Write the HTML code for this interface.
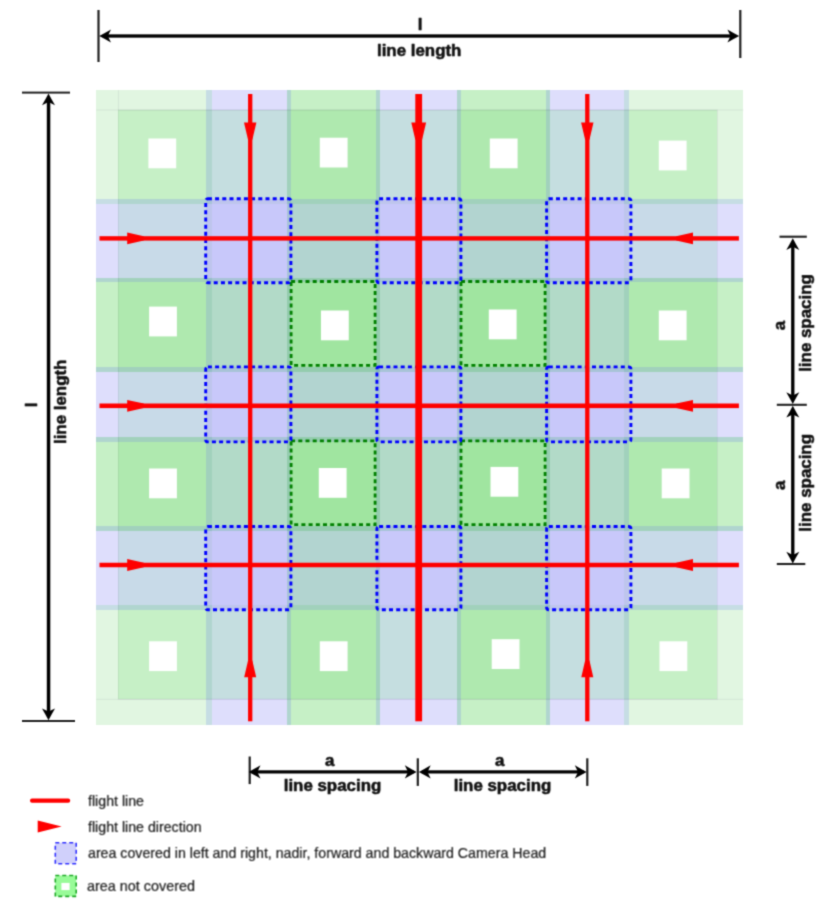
<!DOCTYPE html>
<html><head><meta charset="utf-8"><title>flight lines</title>
<style>html,body{margin:0;padding:0;background:#fff}svg{display:block}text{font-family:"Liberation Sans",sans-serif}</style></head><body>
<svg width="836" height="913" viewBox="0 0 836 913">
<rect width="836" height="913" fill="#fff"/>
<defs><filter id="b1" filterUnits="userSpaceOnUse" x="0" y="0" width="836" height="913" color-interpolation-filters="sRGB"><feConvolveMatrix order="3" kernelMatrix="0.0289 0.1122 0.0289 0.1122 0.4356 0.1122 0.0289 0.1122 0.0289" edgeMode="duplicate"/></filter><filter id="b2" filterUnits="userSpaceOnUse" x="0" y="0" width="836" height="913" color-interpolation-filters="sRGB"><feConvolveMatrix order="3" kernelMatrix="0.0400 0.1200 0.0400 0.1200 0.3600 0.1200 0.0400 0.1200 0.0400" edgeMode="duplicate"/></filter><filter id="b3" filterUnits="userSpaceOnUse" x="0" y="0" width="836" height="913" color-interpolation-filters="sRGB"><feConvolveMatrix order="3" kernelMatrix="0.0576 0.1248 0.0576 0.1248 0.2704 0.1248 0.0576 0.1248 0.0576" edgeMode="duplicate"/></filter></defs>
<g filter="url(#b1)">
<g shape-rendering="crispEdges">
<rect x="96.3" y="90.2" width="22.10" height="19.80" fill="#e1f6e1"/>
<rect x="118.4" y="90.2" width="87.80" height="19.80" fill="#e1f6e1"/>
<rect x="206.2" y="90.2" width="5.30" height="19.80" fill="#c6dde4"/>
<rect x="211.5" y="90.2" width="75.00" height="19.80" fill="#dedefc"/>
<rect x="286.5" y="90.2" width="4.30" height="19.80" fill="#b0d5cf"/>
<rect x="290.8" y="90.2" width="85.10" height="19.80" fill="#c6f0c6"/>
<rect x="375.9" y="90.2" width="4.30" height="19.80" fill="#b0d5cf"/>
<rect x="380.2" y="90.2" width="76.30" height="19.80" fill="#dedefc"/>
<rect x="456.5" y="90.2" width="4.30" height="19.80" fill="#b0d5cf"/>
<rect x="460.8" y="90.2" width="85.10" height="19.80" fill="#c6f0c6"/>
<rect x="545.9" y="90.2" width="4.30" height="19.80" fill="#b0d5cf"/>
<rect x="550.2" y="90.2" width="74.20" height="19.80" fill="#dedefc"/>
<rect x="624.4" y="90.2" width="5.00" height="19.80" fill="#c6dde4"/>
<rect x="629.4" y="90.2" width="88.00" height="19.80" fill="#e1f6e1"/>
<rect x="717.4" y="90.2" width="26.00" height="19.80" fill="#e1f6e1"/>
<rect x="96.3" y="110.0" width="22.10" height="89.00" fill="#e1f6e1"/>
<rect x="118.4" y="110.0" width="87.80" height="89.00" fill="#c6f0c6"/>
<rect x="206.2" y="110.0" width="5.30" height="89.00" fill="#b0d5cf"/>
<rect x="211.5" y="110.0" width="75.00" height="89.00" fill="#c5dee0"/>
<rect x="286.5" y="110.0" width="4.30" height="89.00" fill="#a1d1bc"/>
<rect x="290.8" y="110.0" width="85.10" height="89.00" fill="#afe9af"/>
<rect x="375.9" y="110.0" width="4.30" height="89.00" fill="#a1d1bc"/>
<rect x="380.2" y="110.0" width="76.30" height="89.00" fill="#c5dee0"/>
<rect x="456.5" y="110.0" width="4.30" height="89.00" fill="#a1d1bc"/>
<rect x="460.8" y="110.0" width="85.10" height="89.00" fill="#afe9af"/>
<rect x="545.9" y="110.0" width="4.30" height="89.00" fill="#a1d1bc"/>
<rect x="550.2" y="110.0" width="74.20" height="89.00" fill="#c5dee0"/>
<rect x="624.4" y="110.0" width="5.00" height="89.00" fill="#b0d5cf"/>
<rect x="629.4" y="110.0" width="88.00" height="89.00" fill="#c6f0c6"/>
<rect x="717.4" y="110.0" width="26.00" height="89.00" fill="#e1f6e1"/>
<rect x="96.3" y="199.0" width="22.10" height="5.00" fill="#c6dde4"/>
<rect x="118.4" y="199.0" width="87.80" height="5.00" fill="#b0d5cf"/>
<rect x="206.2" y="199.0" width="5.30" height="5.00" fill="#a8c3d7"/>
<rect x="211.5" y="199.0" width="75.00" height="5.00" fill="#bec5ed"/>
<rect x="286.5" y="199.0" width="4.30" height="5.00" fill="#96bec8"/>
<rect x="290.8" y="199.0" width="85.10" height="5.00" fill="#a1d1bc"/>
<rect x="375.9" y="199.0" width="4.30" height="5.00" fill="#96bec8"/>
<rect x="380.2" y="199.0" width="76.30" height="5.00" fill="#bec5ed"/>
<rect x="456.5" y="199.0" width="4.30" height="5.00" fill="#96bec8"/>
<rect x="460.8" y="199.0" width="85.10" height="5.00" fill="#a1d1bc"/>
<rect x="545.9" y="199.0" width="4.30" height="5.00" fill="#96bec8"/>
<rect x="550.2" y="199.0" width="74.20" height="5.00" fill="#bec5ed"/>
<rect x="624.4" y="199.0" width="5.00" height="5.00" fill="#a8c3d7"/>
<rect x="629.4" y="199.0" width="88.00" height="5.00" fill="#b0d5cf"/>
<rect x="717.4" y="199.0" width="26.00" height="5.00" fill="#c6dde4"/>
<rect x="96.3" y="204" width="22.10" height="74.00" fill="#dedefc"/>
<rect x="118.4" y="204" width="87.80" height="74.00" fill="#c8dae8"/>
<rect x="206.2" y="204" width="5.30" height="74.00" fill="#bec5ed"/>
<rect x="211.5" y="204" width="75.00" height="74.00" fill="#c8c8fa"/>
<rect x="286.5" y="204" width="4.30" height="74.00" fill="#a8c3d7"/>
<rect x="290.8" y="204" width="85.10" height="74.00" fill="#b2d4d0"/>
<rect x="375.9" y="204" width="4.30" height="74.00" fill="#a8c3d7"/>
<rect x="380.2" y="204" width="76.30" height="74.00" fill="#c8c8fa"/>
<rect x="456.5" y="204" width="4.30" height="74.00" fill="#a8c3d7"/>
<rect x="460.8" y="204" width="85.10" height="74.00" fill="#b2d4d0"/>
<rect x="545.9" y="204" width="4.30" height="74.00" fill="#a8c3d7"/>
<rect x="550.2" y="204" width="74.20" height="74.00" fill="#c8c8fa"/>
<rect x="624.4" y="204" width="5.00" height="74.00" fill="#bec5ed"/>
<rect x="629.4" y="204" width="88.00" height="74.00" fill="#c8dae8"/>
<rect x="717.4" y="204" width="26.00" height="74.00" fill="#dedefc"/>
<rect x="96.3" y="278" width="22.10" height="4.20" fill="#b0d5cf"/>
<rect x="118.4" y="278" width="87.80" height="4.20" fill="#a1d1bc"/>
<rect x="206.2" y="278" width="5.30" height="4.20" fill="#96bec8"/>
<rect x="211.5" y="278" width="75.00" height="4.20" fill="#a8c3d7"/>
<rect x="286.5" y="278" width="4.30" height="4.20" fill="#87b9b9"/>
<rect x="290.8" y="278" width="85.10" height="4.20" fill="#94ccae"/>
<rect x="375.9" y="278" width="4.30" height="4.20" fill="#87b9b9"/>
<rect x="380.2" y="278" width="76.30" height="4.20" fill="#a8c3d7"/>
<rect x="456.5" y="278" width="4.30" height="4.20" fill="#87b9b9"/>
<rect x="460.8" y="278" width="85.10" height="4.20" fill="#94ccae"/>
<rect x="545.9" y="278" width="4.30" height="4.20" fill="#87b9b9"/>
<rect x="550.2" y="278" width="74.20" height="4.20" fill="#a8c3d7"/>
<rect x="624.4" y="278" width="5.00" height="4.20" fill="#96bec8"/>
<rect x="629.4" y="278" width="88.00" height="4.20" fill="#a1d1bc"/>
<rect x="717.4" y="278" width="26.00" height="4.20" fill="#b0d5cf"/>
<rect x="96.3" y="282.2" width="22.10" height="85.10" fill="#c6f0c6"/>
<rect x="118.4" y="282.2" width="87.80" height="85.10" fill="#afe9af"/>
<rect x="206.2" y="282.2" width="5.30" height="85.10" fill="#a1d1bc"/>
<rect x="211.5" y="282.2" width="75.00" height="85.10" fill="#b2dac8"/>
<rect x="286.5" y="282.2" width="4.30" height="85.10" fill="#94ccae"/>
<rect x="290.8" y="282.2" width="85.10" height="85.10" fill="#a0e5a0"/>
<rect x="375.9" y="282.2" width="4.30" height="85.10" fill="#94ccae"/>
<rect x="380.2" y="282.2" width="76.30" height="85.10" fill="#b2dac8"/>
<rect x="456.5" y="282.2" width="4.30" height="85.10" fill="#94ccae"/>
<rect x="460.8" y="282.2" width="85.10" height="85.10" fill="#a0e5a0"/>
<rect x="545.9" y="282.2" width="4.30" height="85.10" fill="#94ccae"/>
<rect x="550.2" y="282.2" width="74.20" height="85.10" fill="#b2dac8"/>
<rect x="624.4" y="282.2" width="5.00" height="85.10" fill="#a1d1bc"/>
<rect x="629.4" y="282.2" width="88.00" height="85.10" fill="#afe9af"/>
<rect x="717.4" y="282.2" width="26.00" height="85.10" fill="#c6f0c6"/>
<rect x="96.3" y="367.3" width="22.10" height="4.30" fill="#b0d5cf"/>
<rect x="118.4" y="367.3" width="87.80" height="4.30" fill="#a1d1bc"/>
<rect x="206.2" y="367.3" width="5.30" height="4.30" fill="#96bec8"/>
<rect x="211.5" y="367.3" width="75.00" height="4.30" fill="#a8c3d7"/>
<rect x="286.5" y="367.3" width="4.30" height="4.30" fill="#87b9b9"/>
<rect x="290.8" y="367.3" width="85.10" height="4.30" fill="#94ccae"/>
<rect x="375.9" y="367.3" width="4.30" height="4.30" fill="#87b9b9"/>
<rect x="380.2" y="367.3" width="76.30" height="4.30" fill="#a8c3d7"/>
<rect x="456.5" y="367.3" width="4.30" height="4.30" fill="#87b9b9"/>
<rect x="460.8" y="367.3" width="85.10" height="4.30" fill="#94ccae"/>
<rect x="545.9" y="367.3" width="4.30" height="4.30" fill="#87b9b9"/>
<rect x="550.2" y="367.3" width="74.20" height="4.30" fill="#a8c3d7"/>
<rect x="624.4" y="367.3" width="5.00" height="4.30" fill="#96bec8"/>
<rect x="629.4" y="367.3" width="88.00" height="4.30" fill="#a1d1bc"/>
<rect x="717.4" y="367.3" width="26.00" height="4.30" fill="#b0d5cf"/>
<rect x="96.3" y="371.6" width="22.10" height="65.60" fill="#dedefc"/>
<rect x="118.4" y="371.6" width="87.80" height="65.60" fill="#c8dae8"/>
<rect x="206.2" y="371.6" width="5.30" height="65.60" fill="#bec5ed"/>
<rect x="211.5" y="371.6" width="75.00" height="65.60" fill="#c8c8fa"/>
<rect x="286.5" y="371.6" width="4.30" height="65.60" fill="#a8c3d7"/>
<rect x="290.8" y="371.6" width="85.10" height="65.60" fill="#b2d4d0"/>
<rect x="375.9" y="371.6" width="4.30" height="65.60" fill="#a8c3d7"/>
<rect x="380.2" y="371.6" width="76.30" height="65.60" fill="#c8c8fa"/>
<rect x="456.5" y="371.6" width="4.30" height="65.60" fill="#a8c3d7"/>
<rect x="460.8" y="371.6" width="85.10" height="65.60" fill="#b2d4d0"/>
<rect x="545.9" y="371.6" width="4.30" height="65.60" fill="#a8c3d7"/>
<rect x="550.2" y="371.6" width="74.20" height="65.60" fill="#c8c8fa"/>
<rect x="624.4" y="371.6" width="5.00" height="65.60" fill="#bec5ed"/>
<rect x="629.4" y="371.6" width="88.00" height="65.60" fill="#c8dae8"/>
<rect x="717.4" y="371.6" width="26.00" height="65.60" fill="#dedefc"/>
<rect x="96.3" y="437.2" width="22.10" height="4.30" fill="#b0d5cf"/>
<rect x="118.4" y="437.2" width="87.80" height="4.30" fill="#a1d1bc"/>
<rect x="206.2" y="437.2" width="5.30" height="4.30" fill="#96bec8"/>
<rect x="211.5" y="437.2" width="75.00" height="4.30" fill="#a8c3d7"/>
<rect x="286.5" y="437.2" width="4.30" height="4.30" fill="#87b9b9"/>
<rect x="290.8" y="437.2" width="85.10" height="4.30" fill="#94ccae"/>
<rect x="375.9" y="437.2" width="4.30" height="4.30" fill="#87b9b9"/>
<rect x="380.2" y="437.2" width="76.30" height="4.30" fill="#a8c3d7"/>
<rect x="456.5" y="437.2" width="4.30" height="4.30" fill="#87b9b9"/>
<rect x="460.8" y="437.2" width="85.10" height="4.30" fill="#94ccae"/>
<rect x="545.9" y="437.2" width="4.30" height="4.30" fill="#87b9b9"/>
<rect x="550.2" y="437.2" width="74.20" height="4.30" fill="#a8c3d7"/>
<rect x="624.4" y="437.2" width="5.00" height="4.30" fill="#96bec8"/>
<rect x="629.4" y="437.2" width="88.00" height="4.30" fill="#a1d1bc"/>
<rect x="717.4" y="437.2" width="26.00" height="4.30" fill="#b0d5cf"/>
<rect x="96.3" y="441.5" width="22.10" height="84.40" fill="#c6f0c6"/>
<rect x="118.4" y="441.5" width="87.80" height="84.40" fill="#afe9af"/>
<rect x="206.2" y="441.5" width="5.30" height="84.40" fill="#a1d1bc"/>
<rect x="211.5" y="441.5" width="75.00" height="84.40" fill="#b2dac8"/>
<rect x="286.5" y="441.5" width="4.30" height="84.40" fill="#94ccae"/>
<rect x="290.8" y="441.5" width="85.10" height="84.40" fill="#a0e5a0"/>
<rect x="375.9" y="441.5" width="4.30" height="84.40" fill="#94ccae"/>
<rect x="380.2" y="441.5" width="76.30" height="84.40" fill="#b2dac8"/>
<rect x="456.5" y="441.5" width="4.30" height="84.40" fill="#94ccae"/>
<rect x="460.8" y="441.5" width="85.10" height="84.40" fill="#a0e5a0"/>
<rect x="545.9" y="441.5" width="4.30" height="84.40" fill="#94ccae"/>
<rect x="550.2" y="441.5" width="74.20" height="84.40" fill="#b2dac8"/>
<rect x="624.4" y="441.5" width="5.00" height="84.40" fill="#a1d1bc"/>
<rect x="629.4" y="441.5" width="88.00" height="84.40" fill="#afe9af"/>
<rect x="717.4" y="441.5" width="26.00" height="84.40" fill="#c6f0c6"/>
<rect x="96.3" y="525.9" width="22.10" height="4.60" fill="#b0d5cf"/>
<rect x="118.4" y="525.9" width="87.80" height="4.60" fill="#a1d1bc"/>
<rect x="206.2" y="525.9" width="5.30" height="4.60" fill="#96bec8"/>
<rect x="211.5" y="525.9" width="75.00" height="4.60" fill="#a8c3d7"/>
<rect x="286.5" y="525.9" width="4.30" height="4.60" fill="#87b9b9"/>
<rect x="290.8" y="525.9" width="85.10" height="4.60" fill="#94ccae"/>
<rect x="375.9" y="525.9" width="4.30" height="4.60" fill="#87b9b9"/>
<rect x="380.2" y="525.9" width="76.30" height="4.60" fill="#a8c3d7"/>
<rect x="456.5" y="525.9" width="4.30" height="4.60" fill="#87b9b9"/>
<rect x="460.8" y="525.9" width="85.10" height="4.60" fill="#94ccae"/>
<rect x="545.9" y="525.9" width="4.30" height="4.60" fill="#87b9b9"/>
<rect x="550.2" y="525.9" width="74.20" height="4.60" fill="#a8c3d7"/>
<rect x="624.4" y="525.9" width="5.00" height="4.60" fill="#96bec8"/>
<rect x="629.4" y="525.9" width="88.00" height="4.60" fill="#a1d1bc"/>
<rect x="717.4" y="525.9" width="26.00" height="4.60" fill="#b0d5cf"/>
<rect x="96.3" y="530.5" width="22.10" height="74.80" fill="#dedefc"/>
<rect x="118.4" y="530.5" width="87.80" height="74.80" fill="#c8dae8"/>
<rect x="206.2" y="530.5" width="5.30" height="74.80" fill="#bec5ed"/>
<rect x="211.5" y="530.5" width="75.00" height="74.80" fill="#c8c8fa"/>
<rect x="286.5" y="530.5" width="4.30" height="74.80" fill="#a8c3d7"/>
<rect x="290.8" y="530.5" width="85.10" height="74.80" fill="#b2d4d0"/>
<rect x="375.9" y="530.5" width="4.30" height="74.80" fill="#a8c3d7"/>
<rect x="380.2" y="530.5" width="76.30" height="74.80" fill="#c8c8fa"/>
<rect x="456.5" y="530.5" width="4.30" height="74.80" fill="#a8c3d7"/>
<rect x="460.8" y="530.5" width="85.10" height="74.80" fill="#b2d4d0"/>
<rect x="545.9" y="530.5" width="4.30" height="74.80" fill="#a8c3d7"/>
<rect x="550.2" y="530.5" width="74.20" height="74.80" fill="#c8c8fa"/>
<rect x="624.4" y="530.5" width="5.00" height="74.80" fill="#bec5ed"/>
<rect x="629.4" y="530.5" width="88.00" height="74.80" fill="#c8dae8"/>
<rect x="717.4" y="530.5" width="26.00" height="74.80" fill="#dedefc"/>
<rect x="96.3" y="605.3" width="22.10" height="4.70" fill="#c6dde4"/>
<rect x="118.4" y="605.3" width="87.80" height="4.70" fill="#b0d5cf"/>
<rect x="206.2" y="605.3" width="5.30" height="4.70" fill="#a8c3d7"/>
<rect x="211.5" y="605.3" width="75.00" height="4.70" fill="#bec5ed"/>
<rect x="286.5" y="605.3" width="4.30" height="4.70" fill="#96bec8"/>
<rect x="290.8" y="605.3" width="85.10" height="4.70" fill="#a1d1bc"/>
<rect x="375.9" y="605.3" width="4.30" height="4.70" fill="#96bec8"/>
<rect x="380.2" y="605.3" width="76.30" height="4.70" fill="#bec5ed"/>
<rect x="456.5" y="605.3" width="4.30" height="4.70" fill="#96bec8"/>
<rect x="460.8" y="605.3" width="85.10" height="4.70" fill="#a1d1bc"/>
<rect x="545.9" y="605.3" width="4.30" height="4.70" fill="#96bec8"/>
<rect x="550.2" y="605.3" width="74.20" height="4.70" fill="#bec5ed"/>
<rect x="624.4" y="605.3" width="5.00" height="4.70" fill="#a8c3d7"/>
<rect x="629.4" y="605.3" width="88.00" height="4.70" fill="#b0d5cf"/>
<rect x="717.4" y="605.3" width="26.00" height="4.70" fill="#c6dde4"/>
<rect x="96.3" y="610.0" width="22.10" height="89.30" fill="#e1f6e1"/>
<rect x="118.4" y="610.0" width="87.80" height="89.30" fill="#c6f0c6"/>
<rect x="206.2" y="610.0" width="5.30" height="89.30" fill="#b0d5cf"/>
<rect x="211.5" y="610.0" width="75.00" height="89.30" fill="#c5dee0"/>
<rect x="286.5" y="610.0" width="4.30" height="89.30" fill="#a1d1bc"/>
<rect x="290.8" y="610.0" width="85.10" height="89.30" fill="#afe9af"/>
<rect x="375.9" y="610.0" width="4.30" height="89.30" fill="#a1d1bc"/>
<rect x="380.2" y="610.0" width="76.30" height="89.30" fill="#c5dee0"/>
<rect x="456.5" y="610.0" width="4.30" height="89.30" fill="#a1d1bc"/>
<rect x="460.8" y="610.0" width="85.10" height="89.30" fill="#afe9af"/>
<rect x="545.9" y="610.0" width="4.30" height="89.30" fill="#a1d1bc"/>
<rect x="550.2" y="610.0" width="74.20" height="89.30" fill="#c5dee0"/>
<rect x="624.4" y="610.0" width="5.00" height="89.30" fill="#b0d5cf"/>
<rect x="629.4" y="610.0" width="88.00" height="89.30" fill="#c6f0c6"/>
<rect x="717.4" y="610.0" width="26.00" height="89.30" fill="#e1f6e1"/>
<rect x="96.3" y="699.3" width="22.10" height="26.00" fill="#e1f6e1"/>
<rect x="118.4" y="699.3" width="87.80" height="26.00" fill="#e1f6e1"/>
<rect x="206.2" y="699.3" width="5.30" height="26.00" fill="#c6dde4"/>
<rect x="211.5" y="699.3" width="75.00" height="26.00" fill="#dedefc"/>
<rect x="286.5" y="699.3" width="4.30" height="26.00" fill="#b0d5cf"/>
<rect x="290.8" y="699.3" width="85.10" height="26.00" fill="#c6f0c6"/>
<rect x="375.9" y="699.3" width="4.30" height="26.00" fill="#b0d5cf"/>
<rect x="380.2" y="699.3" width="76.30" height="26.00" fill="#dedefc"/>
<rect x="456.5" y="699.3" width="4.30" height="26.00" fill="#b0d5cf"/>
<rect x="460.8" y="699.3" width="85.10" height="26.00" fill="#c6f0c6"/>
<rect x="545.9" y="699.3" width="4.30" height="26.00" fill="#b0d5cf"/>
<rect x="550.2" y="699.3" width="74.20" height="26.00" fill="#dedefc"/>
<rect x="624.4" y="699.3" width="5.00" height="26.00" fill="#c6dde4"/>
<rect x="629.4" y="699.3" width="88.00" height="26.00" fill="#e1f6e1"/>
<rect x="717.4" y="699.3" width="26.00" height="26.00" fill="#e1f6e1"/>
</g>
<rect x="118.4" y="110.0" width="599.00" height="589.30" fill="none" stroke="#302040" stroke-opacity="0.07" stroke-width="1"/>
<path d="M96.3 110.0H743.4M96.3 699.3H743.4M118.4 90.2V110.0" fill="none" stroke="#302040" stroke-opacity="0.07" stroke-width="1"/>
<rect x="148.4" y="138.5" width="27.8" height="29.8" fill="#fff"/>
<rect x="319.8" y="137.7" width="27.8" height="29.8" fill="#fff"/>
<rect x="489.8" y="138.5" width="27.8" height="29.8" fill="#fff"/>
<rect x="658.8" y="140.6" width="27.8" height="29.8" fill="#fff"/>
<rect x="149.1" y="306.6" width="27.8" height="29.8" fill="#fff"/>
<rect x="320.95" y="310.5" width="27.8" height="29.8" fill="#fff"/>
<rect x="488.8" y="309.5" width="27.8" height="29.8" fill="#fff"/>
<rect x="658.8" y="310.5" width="27.8" height="29.8" fill="#fff"/>
<rect x="149.1" y="468.5" width="27.8" height="29.8" fill="#fff"/>
<rect x="318.8" y="468.0" width="27.8" height="29.8" fill="#fff"/>
<rect x="490.5" y="466.9" width="27.8" height="29.8" fill="#fff"/>
<rect x="661.7" y="468.5" width="27.8" height="29.8" fill="#fff"/>
<rect x="149.1" y="641.3" width="27.8" height="29.8" fill="#fff"/>
<rect x="319.8" y="641.3" width="27.8" height="29.8" fill="#fff"/>
<rect x="491.7" y="639.2" width="27.8" height="29.8" fill="#fff"/>
<rect x="659.5" y="641.3" width="27.8" height="29.8" fill="#fff"/>
<rect x="291.1" y="281.5" width="84.0" height="83.8" fill="none" stroke="#008000" stroke-width="2.8" stroke-dasharray="4 3.2"/>
<rect x="291.1" y="440.8" width="84.0" height="83.9" fill="none" stroke="#008000" stroke-width="2.8" stroke-dasharray="4 3.2"/>
<rect x="461.0" y="281.5" width="84.1" height="83.8" fill="none" stroke="#008000" stroke-width="2.8" stroke-dasharray="4 3.2"/>
<rect x="461.0" y="440.8" width="84.1" height="83.9" fill="none" stroke="#008000" stroke-width="2.8" stroke-dasharray="4 3.2"/>
<rect x="205.7" y="198.7" width="85.2" height="84.0" rx="2.2" ry="2.2" fill="none" stroke="#0000ff" stroke-width="2.9" stroke-dasharray="4 3.2"/>
<rect x="205.7" y="366.9" width="85.2" height="75.0" rx="2.2" ry="2.2" fill="none" stroke="#0000ff" stroke-width="2.9" stroke-dasharray="4 3.2"/>
<rect x="205.7" y="526.5" width="85.2" height="83.3" rx="2.2" ry="2.2" fill="none" stroke="#0000ff" stroke-width="2.9" stroke-dasharray="4 3.2"/>
<rect x="376.9" y="198.7" width="84.0" height="84.0" rx="2.2" ry="2.2" fill="none" stroke="#0000ff" stroke-width="2.9" stroke-dasharray="4 3.2"/>
<rect x="376.9" y="366.9" width="84.0" height="75.0" rx="2.2" ry="2.2" fill="none" stroke="#0000ff" stroke-width="2.9" stroke-dasharray="4 3.2"/>
<rect x="376.9" y="526.5" width="84.0" height="83.3" rx="2.2" ry="2.2" fill="none" stroke="#0000ff" stroke-width="2.9" stroke-dasharray="4 3.2"/>
<rect x="546.6" y="198.7" width="84.3" height="84.0" rx="2.2" ry="2.2" fill="none" stroke="#0000ff" stroke-width="2.9" stroke-dasharray="4 3.2"/>
<rect x="546.6" y="366.9" width="84.3" height="75.0" rx="2.2" ry="2.2" fill="none" stroke="#0000ff" stroke-width="2.9" stroke-dasharray="4 3.2"/>
<rect x="546.6" y="526.5" width="84.3" height="83.3" rx="2.2" ry="2.2" fill="none" stroke="#0000ff" stroke-width="2.9" stroke-dasharray="4 3.2"/>
<rect x="248.05" y="94" width="4.3" height="627.3" fill="#ff0000"/>
<rect x="415.30" y="94" width="6.8" height="627.3" fill="#ff0000"/>
<rect x="585.15" y="94" width="4.3" height="627.3" fill="#ff0000"/>
<rect x="99.5" y="236.20" width="639.4" height="4.4" fill="#ff0000"/>
<rect x="99.5" y="403.50" width="639.4" height="4.6" fill="#ff0000"/>
<rect x="99.5" y="562.75" width="639.4" height="4.5" fill="#ff0000"/>
<polygon points="244.0,122.6 256.4,122.6 252.35,139.8 248.04999999999998,139.8" fill="#ff0000"/>
<polygon points="411.3,122.6 426.09999999999997,122.6 422.09999999999997,139.8 415.3,139.8" fill="#ff0000"/>
<polygon points="581.0999999999999,122.6 593.5,122.6 589.4499999999999,139.8 585.15,139.8" fill="#ff0000"/>
<polygon points="244.2,677.2 256.2,677.2 252.35,660.4 248.04999999999998,660.4" fill="#ff0000"/>
<polygon points="581.3,677.2 593.3,677.2 589.4499999999999,660.4 585.15,660.4" fill="#ff0000"/>
<polygon points="127.2,232.5 127.2,244.3 143.8,240.6 143.8,236.20000000000002" fill="#ff0000"/>
<polygon points="127.2,399.90000000000003 127.2,411.7 143.8,408.0 143.8,403.6" fill="#ff0000"/>
<polygon points="127.2,559.1 127.2,570.9 143.8,567.2 143.8,562.8" fill="#ff0000"/>
<polygon points="693,232.5 693,244.3 676.2,240.6 676.2,236.20000000000002" fill="#ff0000"/>
<polygon points="693,399.90000000000003 693,411.7 676.2,408.0 676.2,403.6" fill="#ff0000"/>
<polygon points="693,559.1 693,570.9 676.2,567.2 676.2,562.8" fill="#ff0000"/>
<rect x="97.4" y="10" width="2.2" height="52" fill="#222"/>
<rect x="739.2" y="10" width="2.2" height="48" fill="#222"/>
<rect x="104" y="34.35" width="630" height="3.3" fill="#000"/>
<path d="M99.20 36.00Q105.10 32.95 111.00 29.50L107.80 36.00L111.00 42.50Q105.10 39.05 99.20 36.00Z" fill="#000"/>
<path d="M739.20 36.00Q733.30 39.05 727.40 42.50L730.60 36.00L727.40 29.50Q733.30 32.95 739.20 36.00Z" fill="#000"/>
<rect x="22" y="91.6" width="48" height="2" fill="#222"/>
<rect x="22" y="720" width="53" height="2" fill="#222"/>
<rect x="46.8" y="98" width="3.5" height="617" fill="#000"/>
<path d="M48.50 93.40Q51.55 99.30 55.00 105.20L48.50 102.00L42.00 105.20Q45.45 99.30 48.50 93.40Z" fill="#000"/>
<path d="M48.50 720.20Q45.45 714.30 42.00 708.40L48.50 711.60L55.00 708.40Q51.55 714.30 48.50 720.20Z" fill="#000"/>
<rect x="779.5" y="235.64999999999998" width="27.3" height="2.1" fill="#222"/>
<rect x="776.8" y="403.75" width="30.0" height="2.1" fill="#222"/>
<rect x="776.8" y="562.95" width="28.5" height="2.1" fill="#222"/>
<rect x="791.15" y="243" width="3.3" height="156" fill="#000"/>
<rect x="791.15" y="411" width="3.3" height="148" fill="#000"/>
<path d="M792.80 238.20Q795.85 244.10 799.30 250.00L792.80 246.80L786.30 250.00Q789.75 244.10 792.80 238.20Z" fill="#000"/>
<path d="M792.80 404.00Q789.75 398.10 786.30 392.20L792.80 395.40L799.30 392.20Q795.85 398.10 792.80 404.00Z" fill="#000"/>
<path d="M792.80 405.80Q795.85 411.70 799.30 417.60L792.80 414.40L786.30 417.60Q789.75 411.70 792.80 405.80Z" fill="#000"/>
<path d="M792.80 563.60Q789.75 557.70 786.30 551.80L792.80 555.00L799.30 551.80Q795.85 557.70 792.80 563.60Z" fill="#000"/>
<rect x="248.6" y="756.5" width="2.2" height="27.6" fill="#222"/>
<rect x="416.7" y="758.3" width="2.2" height="27.6" fill="#222"/>
<rect x="586.1999999999999" y="758.3" width="2.2" height="27.6" fill="#222"/>
<rect x="252" y="770.3" width="161.5" height="3.2" fill="#000"/>
<rect x="422" y="770.3" width="161.5" height="3.2" fill="#000"/>
<path d="M248.70 771.90Q254.60 768.75 260.50 765.20L257.30 771.90L260.50 778.60Q254.60 775.05 248.70 771.90Z" fill="#000"/>
<path d="M416.60 771.90Q410.70 775.05 404.80 778.60L408.00 771.90L404.80 765.20Q410.70 768.75 416.60 771.90Z" fill="#000"/>
<path d="M418.90 771.90Q424.80 768.75 430.70 765.20L427.50 771.90L430.70 778.60Q424.80 775.05 418.90 771.90Z" fill="#000"/>
<path d="M586.60 771.90Q580.70 775.05 574.80 778.60L578.00 771.90L574.80 765.20Q580.70 768.75 586.60 771.90Z" fill="#000"/>
</g>
<g filter="url(#b2)">
<text x="420.2" y="29.8" font-size="16.9" font-weight="bold" stroke="#111" stroke-width="0.55" stroke-linejoin="round" text-anchor="middle" fill="#111">l</text>
<text x="419.2" y="56" font-size="16.9" font-weight="bold" stroke="#111" stroke-width="0.55" stroke-linejoin="round" text-anchor="middle" fill="#111">line length</text>
<text x="36.6" y="405" font-size="16.9" font-weight="bold" stroke="#111" stroke-width="0.55" stroke-linejoin="round" text-anchor="middle" fill="#111" transform="rotate(-90 36.6 405)">l</text>
<text x="65.8" y="401.8" font-size="16.9" font-weight="bold" stroke="#111" stroke-width="0.55" stroke-linejoin="round" text-anchor="middle" fill="#111" transform="rotate(-90 65.8 401.8)">line length</text>
<text x="785.3" y="325.6" font-size="16.9" font-weight="bold" stroke="#111" stroke-width="0.55" stroke-linejoin="round" text-anchor="middle" fill="#111" transform="rotate(-90 785.3 325.6)">a</text>
<text x="811.2" y="323" font-size="16.9" font-weight="bold" stroke="#111" stroke-width="0.55" stroke-linejoin="round" text-anchor="middle" fill="#111" transform="rotate(-90 811.2 323)">line spacing</text>
<text x="785.3" y="485.4" font-size="16.9" font-weight="bold" stroke="#111" stroke-width="0.55" stroke-linejoin="round" text-anchor="middle" fill="#111" transform="rotate(-90 785.3 485.4)">a</text>
<text x="811.2" y="482.8" font-size="16.9" font-weight="bold" stroke="#111" stroke-width="0.55" stroke-linejoin="round" text-anchor="middle" fill="#111" transform="rotate(-90 811.2 482.8)">line spacing</text>
<text x="329.8" y="765.9" font-size="16.9" font-weight="bold" stroke="#111" stroke-width="0.55" stroke-linejoin="round" text-anchor="middle" fill="#111">a</text>
<text x="332.5" y="791.4" font-size="16.9" font-weight="bold" stroke="#111" stroke-width="0.55" stroke-linejoin="round" text-anchor="middle" fill="#111">line spacing</text>
<text x="499.8" y="765.9" font-size="16.9" font-weight="bold" stroke="#111" stroke-width="0.55" stroke-linejoin="round" text-anchor="middle" fill="#111">a</text>
<text x="502.5" y="791.4" font-size="16.9" font-weight="bold" stroke="#111" stroke-width="0.55" stroke-linejoin="round" text-anchor="middle" fill="#111">line spacing</text>
</g>
<g filter="url(#b1)">
<rect x="30" y="798.4" width="40.2" height="4.3" rx="2" fill="#ff0000"/>
<polygon points="37.7,820.4 37.7,832.4 61.6,826.5" fill="#ff0000"/>
<rect x="55.3" y="842.8" width="20.9" height="20.9" fill="#d0d0fb" stroke="#3434ff" stroke-width="1.6" stroke-dasharray="4 2.967"/>
<rect x="55.3" y="875.5" width="20.9" height="20.9" fill="#98fb98" stroke="#20aa28" stroke-width="1.6" stroke-dasharray="4 2.967"/>
<rect x="61.4" y="882.9" width="8.2" height="7.2" fill="#fff"/>
</g>
<g filter="url(#b3)">
<text x="88" y="805.7" font-size="14.2" stroke="#1a1a1a" stroke-width="0.2" text-anchor="start" fill="#1a1a1a">flight line</text>
<text x="88" y="831.7" font-size="14.2" stroke="#1a1a1a" stroke-width="0.2" text-anchor="start" fill="#1a1a1a">flight line direction</text>
<text x="88" y="858" font-size="14.2" stroke="#1a1a1a" stroke-width="0.2" text-anchor="start" fill="#1a1a1a">area covered in left and right, nadir, forward and backward Camera Head</text>
<text x="87" y="891.2" font-size="14.4" stroke="#1a1a1a" stroke-width="0.2" text-anchor="start" fill="#1a1a1a">area not covered</text>
</g>
</svg></body></html>
